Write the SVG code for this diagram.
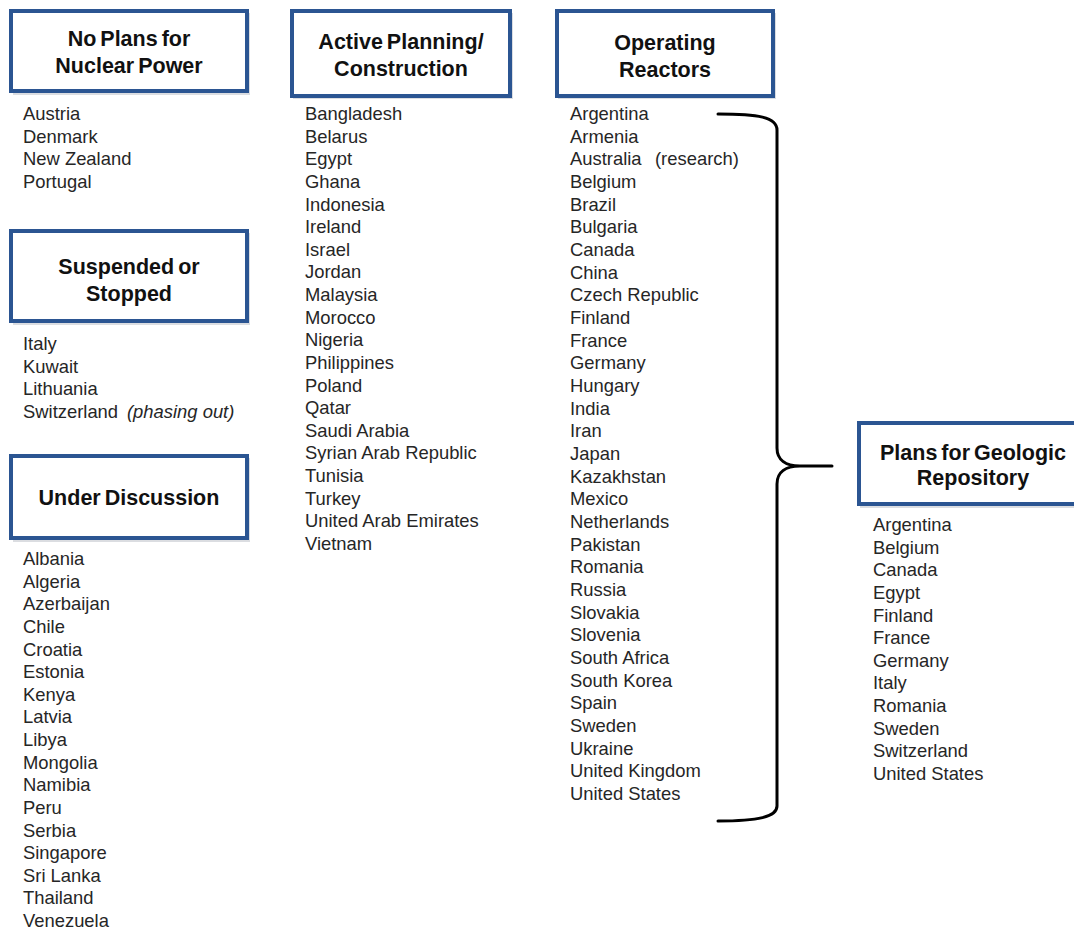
<svg xmlns="http://www.w3.org/2000/svg" width="1074" height="930" viewBox="0 0 1074 930">
<style>
.box{fill:#ffffff;stroke:#2b5592;stroke-width:4}
.shadow{fill:#b8bcc4;opacity:0.5}
.hd{font-family:"Liberation Sans",Arial,sans-serif;font-weight:bold;font-size:21.5px;fill:#111;text-anchor:middle;word-spacing:-2px}
.it{font-family:"Liberation Sans",Arial,sans-serif;font-size:18.4px;fill:#262626}
.em{font-style:italic}
.brace{fill:none;stroke:#000;stroke-width:3;stroke-linecap:round;stroke-linejoin:round}
</style>
<rect width="1074" height="930" fill="#ffffff"/>

<g id="no-plans">
<rect class="shadow" x="13" y="13" width="237" height="82"/>
<rect class="box" x="11" y="11" width="236" height="80"/>
<text class="hd" x="129" y="46">No Plans for</text>
<text class="hd" x="129" y="73">Nuclear Power</text>
<text class="it" x="23" y="120">Austria</text>
<text class="it" x="23" y="142.6">Denmark</text>
<text class="it" x="23" y="165.2">New Zealand</text>
<text class="it" x="23" y="187.8">Portugal</text>
</g>

<g id="suspended">
<rect class="shadow" x="13" y="233" width="237" height="92"/>
<rect class="box" x="11" y="231" width="236" height="90"/>
<text class="hd" x="129" y="274">Suspended or</text>
<text class="hd" x="129" y="301">Stopped</text>
<text class="it" x="23" y="350">Italy</text>
<text class="it" x="23" y="372.6">Kuwait</text>
<text class="it" x="23" y="395.2">Lithuania</text>
<text class="it" x="23" y="417.8">Switzerland</text>
<text class="it em" x="127" y="417.8">(phasing out)</text>
</g>

<g id="under-discussion">
<rect class="shadow" x="13" y="458" width="237" height="84"/>
<rect class="box" x="11" y="456" width="236" height="82"/>
<text class="hd" x="129" y="505">Under Discussion</text>
<text class="it" x="23" y="565">Albania</text>
<text class="it" x="23" y="587.63">Algeria</text>
<text class="it" x="23" y="610.26">Azerbaijan</text>
<text class="it" x="23" y="632.89">Chile</text>
<text class="it" x="23" y="655.52">Croatia</text>
<text class="it" x="23" y="678.15">Estonia</text>
<text class="it" x="23" y="700.78">Kenya</text>
<text class="it" x="23" y="723.41">Latvia</text>
<text class="it" x="23" y="746.04">Libya</text>
<text class="it" x="23" y="768.67">Mongolia</text>
<text class="it" x="23" y="791.3">Namibia</text>
<text class="it" x="23" y="813.93">Peru</text>
<text class="it" x="23" y="836.56">Serbia</text>
<text class="it" x="23" y="859.19">Singapore</text>
<text class="it" x="23" y="881.82">Sri Lanka</text>
<text class="it" x="23" y="904.45">Thailand</text>
<text class="it" x="23" y="927.08">Venezuela</text>
</g>

<g id="active-planning">
<rect class="shadow" x="293" y="13" width="220" height="86"/>
<rect class="box" x="292" y="11" width="218" height="85"/>
<text class="hd" x="401" y="49">Active Planning/</text>
<text class="hd" x="401" y="76">Construction</text>
<text class="it" x="305" y="120">Bangladesh</text>
<text class="it" x="305" y="142.63">Belarus</text>
<text class="it" x="305" y="165.26">Egypt</text>
<text class="it" x="305" y="187.89">Ghana</text>
<text class="it" x="305" y="210.52">Indonesia</text>
<text class="it" x="305" y="233.15">Ireland</text>
<text class="it" x="305" y="255.78">Israel</text>
<text class="it" x="305" y="278.41">Jordan</text>
<text class="it" x="305" y="301.04">Malaysia</text>
<text class="it" x="305" y="323.67">Morocco</text>
<text class="it" x="305" y="346.3">Nigeria</text>
<text class="it" x="305" y="368.93">Philippines</text>
<text class="it" x="305" y="391.56">Poland</text>
<text class="it" x="305" y="414.19">Qatar</text>
<text class="it" x="305" y="436.82">Saudi Arabia</text>
<text class="it" x="305" y="459.45">Syrian Arab Republic</text>
<text class="it" x="305" y="482.08">Tunisia</text>
<text class="it" x="305" y="504.71">Turkey</text>
<text class="it" x="305" y="527.34">United Arab Emirates</text>
<text class="it" x="305" y="549.97">Vietnam</text>
</g>

<g id="operating-reactors">
<rect class="shadow" x="558" y="13" width="218" height="86"/>
<rect class="box" x="557" y="11" width="216" height="85"/>
<text class="hd" x="665" y="50">Operating</text>
<text class="hd" x="665" y="77">Reactors</text>
<text class="it" x="570" y="120">Argentina</text>
<text class="it" x="570" y="142.67">Armenia</text>
<text class="it" x="570" y="165.34">Australia</text>
<text class="it" x="655" y="165.34">(research)</text>
<text class="it" x="570" y="188.01">Belgium</text>
<text class="it" x="570" y="210.68">Brazil</text>
<text class="it" x="570" y="233.35">Bulgaria</text>
<text class="it" x="570" y="256.02">Canada</text>
<text class="it" x="570" y="278.69">China</text>
<text class="it" x="570" y="301.36">Czech Republic</text>
<text class="it" x="570" y="324.03">Finland</text>
<text class="it" x="570" y="346.7">France</text>
<text class="it" x="570" y="369.37">Germany</text>
<text class="it" x="570" y="392.04">Hungary</text>
<text class="it" x="570" y="414.71">India</text>
<text class="it" x="570" y="437.38">Iran</text>
<text class="it" x="570" y="460.05">Japan</text>
<text class="it" x="570" y="482.72">Kazakhstan</text>
<text class="it" x="570" y="505.39">Mexico</text>
<text class="it" x="570" y="528.06">Netherlands</text>
<text class="it" x="570" y="550.73">Pakistan</text>
<text class="it" x="570" y="573.4">Romania</text>
<text class="it" x="570" y="596.07">Russia</text>
<text class="it" x="570" y="618.74">Slovakia</text>
<text class="it" x="570" y="641.41">Slovenia</text>
<text class="it" x="570" y="664.08">South Africa</text>
<text class="it" x="570" y="686.75">South Korea</text>
<text class="it" x="570" y="709.42">Spain</text>
<text class="it" x="570" y="732.09">Sweden</text>
<text class="it" x="570" y="754.76">Ukraine</text>
<text class="it" x="570" y="777.43">United Kingdom</text>
<text class="it" x="570" y="800.1">United States</text>
</g>

<g id="geologic-repository">
<rect class="shadow" x="860" y="425" width="230" height="83"/>
<rect class="box" x="859" y="423" width="230" height="81"/>
<text class="hd" x="973" y="460">Plans for Geologic</text>
<text class="hd" x="973" y="485">Repository</text>
<text class="it" x="873" y="531">Argentina</text>
<text class="it" x="873" y="553.64">Belgium</text>
<text class="it" x="873" y="576.28">Canada</text>
<text class="it" x="873" y="598.92">Egypt</text>
<text class="it" x="873" y="621.56">Finland</text>
<text class="it" x="873" y="644.2">France</text>
<text class="it" x="873" y="666.84">Germany</text>
<text class="it" x="873" y="689.48">Italy</text>
<text class="it" x="873" y="712.12">Romania</text>
<text class="it" x="873" y="734.76">Sweden</text>
<text class="it" x="873" y="757.4">Switzerland</text>
<text class="it" x="873" y="780.04">United States</text>
</g>

<g id="connectors">
<path class="brace" d="M718,114 C758,114 777,117 777,130 L777,448 C777,460 786,466 800,466 L832,466 M800,466 C786,466 777,472 777,484 L777,806 C777,817 758,821 718,821"/>
</g>
</svg>
